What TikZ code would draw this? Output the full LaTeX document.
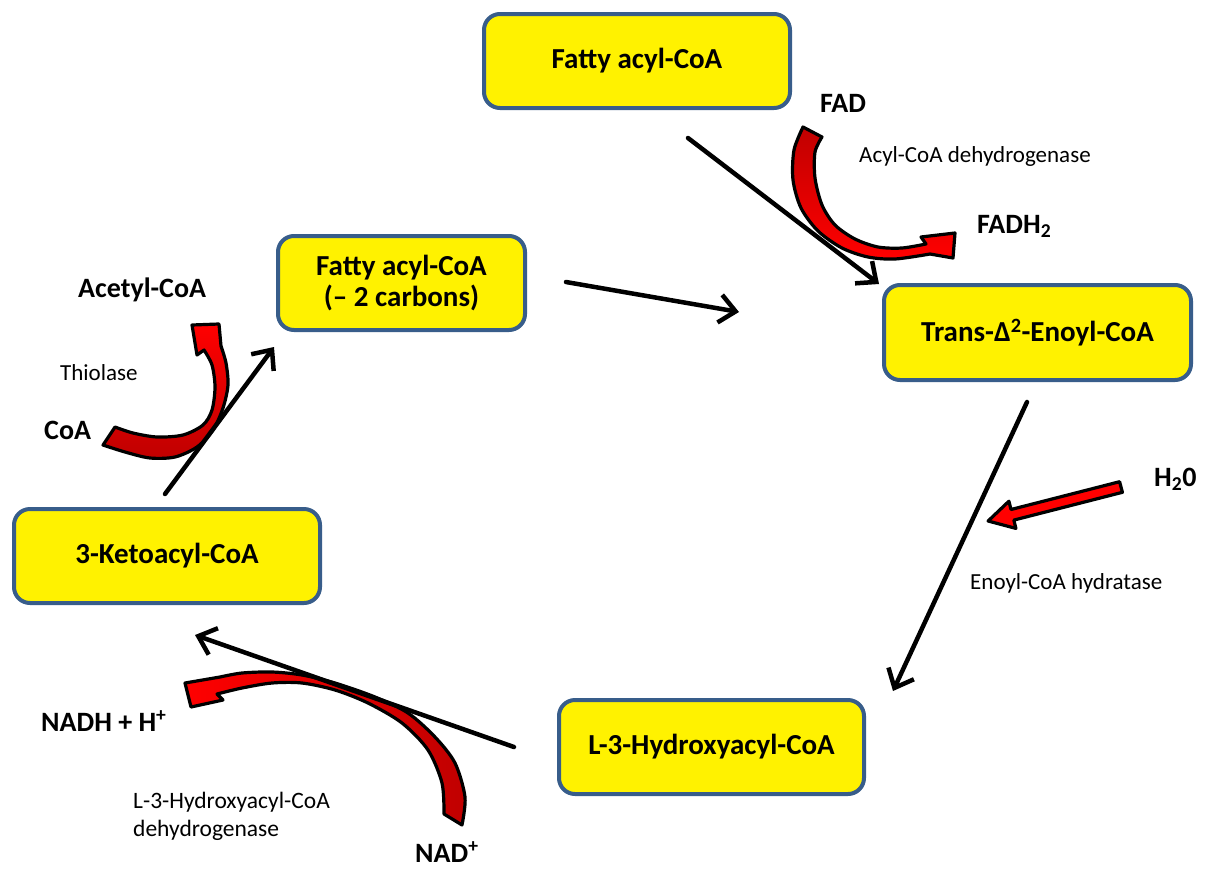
\documentclass[tikz,border=0pt]{standalone}
\usepackage{fontspec}
\setmainfont{Carlito}
\usetikzlibrary{arrows.meta}
\definecolor{boxblue}{RGB}{56,93,138}
\definecolor{darkred}{RGB}{192,0,0}
\tikzset{
  box/.style={draw=boxblue, line width=4pt, fill=yellow, rounded corners=16pt,
    align=center, inner sep=0pt, font=\bfseries\fontsize{29}{31}\selectfont},
  flow/.style={line width=4.5pt, line cap=round, -{Straight Barb[length=16pt,width=28pt]}},
  redarrow/.style={draw=black, line width=3.2pt, line join=round},
  boldlab/.style={font=\bfseries\fontsize{28}{31}\selectfont, inner sep=0pt, anchor=base west},
  enzlab/.style={font=\fontsize{23}{27}\selectfont, inner sep=0pt, anchor=base west},
}
\begin{document}
\begin{tikzpicture}[x=1pt,y=-1pt]
\useasboundingbox (0,0) rectangle (1205,868);
\fill[white] (0,0) rectangle (1205,868);

% metabolites
\node[box, minimum width=306pt, minimum height=94pt] (fa) at (637,61) {Fatty acyl-CoA};
\node[box, minimum width=247pt, minimum height=94pt] (fa2) at (401.5,283) {Fatty acyl-CoA\\(– 2 carbons)};
\node[box, minimum width=307pt, minimum height=95pt] (enoyl) at (1037.5,332.5) {Trans-Δ\textsuperscript{2}-Enoyl-CoA};
\node[box, minimum width=306pt, minimum height=94pt] (keto) at (167,556) {3-Ketoacyl-CoA};
\node[box, minimum width=305pt, minimum height=94pt] (hydroxy) at (711.5,747) {L-3-Hydroxyacyl-CoA};

% cofactors and enzymes
\node[boldlab] (fad) at (820,112) {FAD};
\node[enzlab] (acd) at (859,162) {Acyl-CoA dehydrogenase};
\node[boldlab] (fadh) at (977,233) {FADH\textsubscript{2}};
\node[boldlab] (acetyl) at (78,297) {Acetyl-CoA};
\node[enzlab] (thiolase) at (60,380) {Thiolase};
\node[boldlab] (coa) at (44,439) {CoA};
\node[boldlab] (water) at (1154,486) {H\textsubscript{2}0};
\node[enzlab] (hydratase) at (970,589) {Enoyl-CoA hydratase};
\node[boldlab] (nadh) at (41,731) {NADH + H\textsuperscript{+}};
\node[enzlab, font=\fontsize{23.5}{27}\selectfont] (hadh1) at (133,808) {L-3-Hydroxyacyl-CoA};
\node[enzlab, font=\fontsize{23.5}{27}\selectfont] (hadh2) at (133,836) {dehydrogenase};
\node[boldlab] (nad) at (415,862) {NAD\textsuperscript{+}};

% curved cofactor arrows
\draw[redarrow, top color=darkred, bottom color=red]
  plot[smooth] coordinates {(803,127) (794,150) (793,180) (801,208) (818,231) (842,248) (868,257) (895,259) (930,254)}
  -- (953,258) -- (955,233) -- (921,237)
  -- plot[smooth] coordinates {(926,244) (902,248) (878,247) (855,239) (835,225) (822,205) (815,178) (815,152) (822,137)}
  -- cycle;
\draw[redarrow, top color=red, bottom color=darkred]
  plot[smooth] coordinates {(103,445) (125,452) (150,458) (175,457) (197,447) (213,430) (223,408) (228,385) (226,363) (221,346)}
  -- (219,324) -- (192,325) -- (197,355)
  -- plot[smooth] coordinates {(204,350) (212,365) (215,387) (212,410) (203,425) (183,435) (157,437) (133,433) (115,427)}
  -- cycle;
\draw[redarrow, left color=red, right color=darkred]
  plot[smooth] coordinates {(462,825) (465,797) (455,763) (435,737) (408,713) (375,697) (335,683) (302,675) (272,672) (242,673) (220,677)}
  -- (185,683) -- (191,707) -- (223,700)
  -- plot[smooth] coordinates {(217,694) (242,688) (272,683) (302,683) (335,690) (368,703) (402,723) (428,750) (442,783) (444,814)}
  -- cycle;
% water arrow
\draw[redarrow, fill=red] (1119.6,481.7) -- (1011.0,509.5) -- (1008.9,501.2) -- (988.1,521.0)
  -- (1015.9,528.4) -- (1013.8,520.1) -- (1122.4,492.3) -- cycle;

% reaction arrows
\coordinate (s1) at (688,138);  \coordinate (e1) at (879,284);
\coordinate (s2) at (566,282);  \coordinate (e2) at (739,312);
\coordinate (s3) at (1027,402); \coordinate (e3) at (893,691);
\coordinate (s4) at (514,747);  \coordinate (e4) at (195,635);
\coordinate (s5) at (165,494);  \coordinate (e5) at (274,347);
\draw[flow] (s1) -- (e1);
\draw[flow] (s2) -- (e2);
\draw[flow] (s3) -- (e3);
\draw[flow] (s4) -- (e4);
\draw[flow] (s5) -- (e5);
\end{tikzpicture}
\end{document}
